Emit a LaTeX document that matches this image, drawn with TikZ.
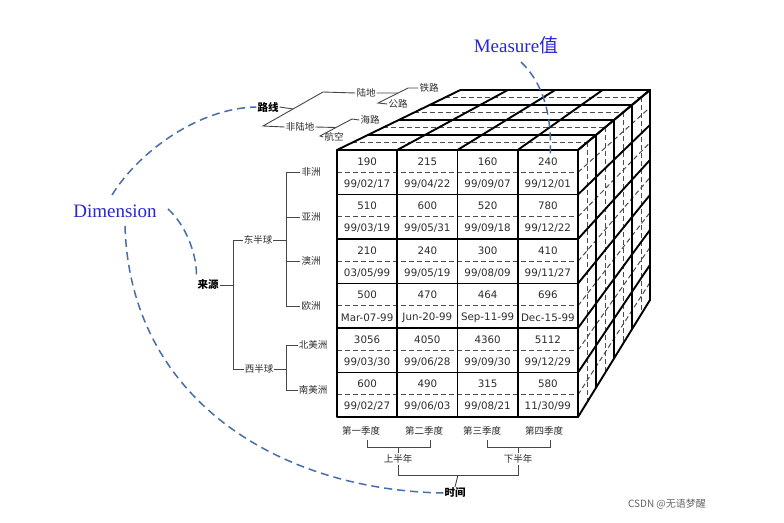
\documentclass[tikz,border=0pt]{standalone}
\usepackage{fontspec}
\setmainfont{Liberation Serif}
\newfontfamily\numfont{DejaVu Sans}
\newfontfamily\cjk{Noto Sans CJK SC}
\newfontfamily\dimfont{Liberation Serif}
\usetikzlibrary{calc}
\definecolor{dimblue}{RGB}{40,40,210}
\definecolor{curveblue}{RGB}{70,110,170}
\definecolor{labgray}{RGB}{45,45,45}
\definecolor{treegray}{RGB}{70,70,70}
\newcommand\cellval[4]{%
  \node[cellnum] (n#1#2) at ({367.1+60.25*#1},{161.5+44.5*#2}) {#3};
  \node[cellnum] (d#1#2) at ({367.1+60.25*#1},{184+44.5*#2}) {#4};}
\begin{document}
\begin{tikzpicture}[x=1pt,y=-1pt,
  cubeline/.style={line width=1.9pt, black, line cap=round, line join=round},
  cubedash/.style={line width=1pt, black!70, dash pattern=on 5pt off 3pt},
  cellnum/.style={font=\numfont\fontsize{10.3}{12}\selectfont, text=labgray, inner sep=0pt},
  lab/.style={font=\cjk\fontsize{9.5}{11}\selectfont, text=labgray, inner sep=1pt},
  boldlab/.style={font=\cjk\bfseries\fontsize{10.5}{12}\selectfont, text=black, inner sep=1pt},
  tree/.style={line width=0.9pt, treegray},
  bluedash/.style={line width=1.5pt, curveblue, dash pattern=on 8pt off 5pt},
  bluetext/.style={font=\dimfont\fontsize{19}{22}\selectfont, text=dimblue, inner sep=1pt}]
\useasboundingbox (0,0) rectangle (784,522);
\fill[white] (0,0) rectangle (784,522);

% ---------- cube ----------
\coordinate (V) at (915,-131);
\def\sb{0.786}
% top face
\foreach \i in {0.5,1.5,2.5,3.5} {
  \pgfmathsetmacro\s{1-\i*(1-\sb)/4}
  \draw[cubedash] ($(V)!\s!(337,150)$) -- ($(V)!\s!(578,150)$);
}
\foreach \i in {1,2,3,4} {
  \pgfmathsetmacro\s{1-\i*(1-\sb)/4}
  \draw[cubeline] ($(V)!\s!(337,150)$) -- ($(V)!\s!(578,150)$);
}
\foreach \x in {337,397.25,457.5,517.75,578}
  \draw[cubeline] (\x,150) -- ($(V)!\sb!(\x,150)$);
% right face
\foreach \i in {0.5,1.5,2.5,3.5} {
  \pgfmathsetmacro\s{1-\i*(1-\sb)/4}
  \draw[cubedash] ($(V)!\s!(578,150)$) -- ($(V)!\s!(578,417)$);
}
\foreach \y in {172.25,216.75,261.25,305.75,350.25,394.75}
  \draw[cubedash] (578,\y) -- ($(V)!\sb!(578,\y)$);
\foreach \i in {1,2,3,4} {
  \pgfmathsetmacro\s{1-\i*(1-\sb)/4}
  \draw[cubeline] ($(V)!\s!(578,150)$) -- ($(V)!\s!(578,417)$);
}
\foreach \y in {150,194.5,239,283.5,328,372.5,417}
  \draw[cubeline] (578,\y) -- ($(V)!\sb!(578,\y)$);
% front face
\fill[white] (337,150) rectangle (578,417);
\foreach \y in {172.25,216.75,261.25,305.75,350.25,394.75}
  \draw[cubedash] (337,\y) -- (578,\y);
\foreach \x in {397.25,457.5,517.75}
  \draw[cubeline] (\x,150) -- (\x,417);
\foreach \y in {194.5,239,283.5,328,372.5}
  \draw[cubeline] (337,\y) -- (578,\y);
\draw[cubeline] (337,150) rectangle (578,417);

\cellval{0}{0}{190}{99/02/17}\cellval{1}{0}{215}{99/04/22}\cellval{2}{0}{160}{99/09/07}\cellval{3}{0}{240}{99/12/01}
\cellval{0}{1}{510}{99/03/19}\cellval{1}{1}{600}{99/05/31}\cellval{2}{1}{520}{99/09/18}\cellval{3}{1}{780}{99/12/22}
\cellval{0}{2}{210}{03/05/99}\cellval{1}{2}{240}{99/05/19}\cellval{2}{2}{300}{99/08/09}\cellval{3}{2}{410}{99/11/27}
\cellval{0}{3}{500}{Mar-07-99}\cellval{1}{3}{470}{Jun-20-99}\cellval{2}{3}{464}{Sep-11-99}\cellval{3}{3}{696}{Dec-15-99}
\cellval{0}{4}{3056}{99/03/30}\cellval{1}{4}{4050}{99/06/28}\cellval{2}{4}{4360}{99/09/30}\cellval{3}{4}{5112}{99/12/29}
\cellval{0}{5}{600}{99/02/27}\cellval{1}{5}{490}{99/06/03}\cellval{2}{5}{315}{99/08/21}\cellval{3}{5}{580}{11/30/99}

% ---------- route tree (top) ----------
\node[boldlab] (route) at (268,107) {路线};
\node[lab] (land) at (366,93) {陆地};
\node[lab] (nonland) at (300,127) {非陆地};
\node[lab] (rail) at (429,88) {铁路};
\node[lab] (road) at (398,104) {公路};
\node[lab] (sea) at (370,120) {海路};
\node[lab] (air) at (334,137) {航空};
\coordinate (A1) at (323,92); \coordinate (A2) at (263,126);
\coordinate (B1) at (408,88); \coordinate (B2) at (378,103);
\coordinate (C1) at (352,119); \coordinate (C2) at (320,136);
\draw[tree] (route.east) -- ($(A1)!0.5!(A2)$);
\draw[tree] (land.west) -- (A1) -- (A2) -- (nonland.west);
\draw[tree] (land.east) -- ($(B1)!0.33!(B2)$);
\draw[tree] (rail.west) -- (B1) -- (B2) -- (road.west);
\draw[tree] (nonland.east) -- ($(C1)!0.5!(C2)$);
\draw[tree] (sea.west) -- (C1) -- (C2) -- (air.west);

% ---------- source tree (left) ----------
\node[boldlab] (src) at (208,285) {来源};
\node[lab] (east) at (258,240) {东半球};
\node[lab] (west) at (259,369) {西半球};
\node[lab] (af) at (311,172) {非洲};
\node[lab] (as) at (311,217) {亚洲};
\node[lab] (au) at (311,261) {澳洲};
\node[lab] (eu) at (311,306) {欧洲};
\node[lab] (na) at (313,345) {北美洲};
\node[lab] (sa) at (313,390) {南美洲};
\draw[tree] (src.east) -- (233,285);
\draw[tree] (east.west) -- (233,240) -- (233,369) -- (west.west);
\draw[tree] (east.east) -- (286,240);
\draw[tree] (af.west) -- (286,172) -- (286,306) -- (eu.west);
\draw[tree] (as.west) -- (286,217);
\draw[tree] (au.west) -- (286,261);
\draw[tree] (west.east) -- (286,369);
\draw[tree] (na.west) -- (286,345) -- (286,390) -- (sa.west);

% ---------- time tree (bottom) ----------
\node[lab] (q1) at (361,431) {第一季度};
\node[lab] (q2) at (424,431) {第二季度};
\node[lab] (q3) at (482,431) {第三季度};
\node[lab] (q4) at (544,431) {第四季度};
\node[lab] (h1) at (398,459) {上半年};
\node[lab] (h2) at (518,459) {下半年};
\node[boldlab] (time) at (455,493) {时间};
\draw[tree] (367,440) -- (367,447) -- (430,447) -- (430,440);
\draw[tree] (398,447) -- (h1.north);
\draw[tree] (487,440) -- (487,447) -- (550,447) -- (550,440);
\draw[tree] (518,447) -- (h2.north);
\draw[tree] (h1.south) -- (398,475) -- (518,475) -- (h2.south);
\draw[tree] (458,475) -- (time.north);

% ---------- blue annotations ----------
\node[bluetext] (dim) at (115,211) {Dimension};
\node[bluetext] (meas) at (516,45) {Measure{\cjk 值}};
\coordinate (m0) at (521,62);
\coordinate (m1) at (550,158);
\draw[bluedash] (m0) .. controls (540,80) and (553,110) .. (m1);
\coordinate (d0) at (112,195);
\draw[bluedash] (d0) .. controls (140,150) and (200,108) .. (route.west);
\coordinate (d1) at (168,209);
\draw[bluedash] (d1) .. controls (185,224) and (198,255) .. (src.north west);
\coordinate (d2) at (125,226);
\draw[bluedash] (d2) .. controls (130,400) and (280,490) .. (time.west);

% watermark
\node[font=\cjk\fontsize{10}{12}\selectfont, text=black!60] (wm) at (667,504) {CSDN @无语梦醒};
\end{tikzpicture}
\end{document}
